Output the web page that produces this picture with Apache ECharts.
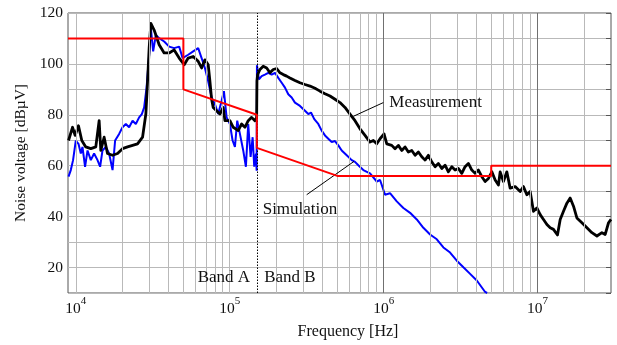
<!DOCTYPE html>
<html><head><meta charset="utf-8">
<script src="https://cdn.jsdelivr.net/npm/echarts@6/dist/echarts.min.js"></script>
<style>html,body{margin:0;padding:0;background:#fff}#c{width:617px;height:345px}</style>
</head><body><div id="c"></div>
<script>
// ---- data (frequency in Hz, level in dBµV) ----
const measFreq = [8970, 9520, 9900, 10410, 10940, 11610, 12520, 13490, 14180, 14540, 15280, 16070, 17330, 18670, 20120, 21690, 23380, 25190, 27150, 28520, 29260, 29970, 30740, 32290, 34800, 37510, 40430, 43570, 46960, 50610, 53730, 57900, 62400, 65670, 69000, 72490, 74360, 76270, 78120, 82190, 86350, 90730, 93070, 100300, 105400, 113600, 119500, 125600, 131900, 138800, 145800, 149600, 150300, 151800, 157200, 165100, 173800, 182600, 191800, 201800, 212100, 222800, 234400, 246300, 265400, 286100, 308300, 332200, 358100, 385900, 415900, 448200, 483100, 520600, 561000, 604600, 651600, 702300, 756900, 815600, 857000, 902000, 948000, 1006000, 1048000, 1129000, 1186000, 1246000, 1312000, 1378000, 1447000, 1523000, 1601000, 1682000, 1769000, 1858000, 1953000, 2054000, 2159000, 2268000, 2387000, 2507000, 2634000, 2772000, 2912000, 3060000, 3219000, 3382000, 3553000, 3740000, 3929000, 4128000, 4344000, 4564000, 4796000, 5047000, 5303000, 5570000, 5714000, 6002000, 6315000, 6635000, 7152000, 7709000, 8095000, 8520000, 8951000, 9406000, 9897000, 10400000, 10930000, 11500000, 12080000, 12690000, 13470000, 14030000, 14740000, 15510000, 16290000, 17120000, 18010000, 19410000, 20930000, 22550000, 24300000, 26190000, 27510000, 28910000, 30000000];
const measVal = [69.9, 75.1, 71.9, 75.7, 69.9, 67.4, 66.7, 67.4, 77.7, 66, 71.2, 64.8, 64.1, 64.8, 66.7, 67.4, 68, 68.6, 71.2, 80.3, 93.2, 106.2, 115.9, 113.3, 107.5, 104.3, 104.3, 105.5, 102.3, 99.7, 102.3, 102.9, 101, 98.4, 101.6, 99.7, 93.2, 86.1, 82.9, 81.6, 80.3, 82.9, 77.7, 77.7, 75.1, 73.8, 76.4, 75.1, 77.7, 79, 77.7, 79, 93.2, 95.8, 97.8, 99.1, 98.4, 96.5, 97.8, 98.2, 96.5, 95.8, 95.2, 94.5, 93.5, 92.6, 91.9, 91.3, 90.4, 89.3, 88.3, 87.4, 86.1, 84.8, 82.9, 80.3, 77.7, 74.5, 71.9, 69.3, 69.9, 68.6, 70.6, 72.5, 68.6, 68, 66.7, 68, 66, 67.4, 65.4, 66, 64.1, 65.4, 63.5, 62.2, 64.1, 61.5, 59.6, 60.9, 58.9, 60.2, 57.6, 59.6, 58.3, 58.9, 57, 59.6, 60.9, 58.3, 57, 58.3, 55.7, 53.8, 55, 57.6, 54.4, 52.4, 57.6, 53.8, 57.6, 51.2, 51.8, 49.9, 51.8, 48.6, 49.9, 42.1, 43.4, 40.8, 38.9, 36.9, 35.6, 35, 32.8, 38.9, 42.1, 45.3, 47.3, 44.1, 39.5, 37.6, 35.6, 33.7, 32.4, 33.7, 33, 37.6, 38.9];

const simFreq = [8970, 9280, 9600, 10000, 10410, 10780, 11050, 11490, 11920, 12520, 13150, 13840, 14390, 14910, 15670, 16460, 17330, 18010, 19120, 20120, 21140, 22210, 23380, 24550, 25800, 26860, 27810, 28830, 29970, 30740, 31810, 33130, 34800, 37510, 40430, 43570, 46960, 49410, 53730, 57900, 62400, 65670, 69000, 72490, 76270, 80140, 84180, 88580, 91690, 95460, 100300, 104400, 108100, 111900, 116500, 122400, 127400, 131900, 136700, 140900, 144300, 148000, 149600, 150300, 154800, 161300, 169400, 178000, 187300, 196800, 206800, 217600, 228600, 240100, 252700, 265400, 286100, 308300, 323900, 337300, 354300, 376200, 395800, 415900, 437100, 459900, 483100, 507600, 534100, 575600, 620200, 651600, 684700, 738000, 815600, 902000, 948000, 1021000, 1100000, 1217000, 1343000, 1485000, 1642000, 1812000, 2003000, 2215000, 2445000, 2702000, 2987000, 3298000, 3646000, 4030000, 4564000, 4703000];
const simVal = [55.7, 58.3, 62.2, 69.9, 68.6, 64.8, 67.4, 59.6, 66, 62.2, 64.8, 62.2, 59.6, 66, 67.4, 64.8, 58.3, 69.9, 72.5, 75.1, 76.4, 75.1, 77.7, 76.4, 79, 80.3, 82.9, 90.7, 103.6, 114, 104.9, 111.4, 110.1, 108.8, 106.8, 106.2, 106.8, 102.3, 103.6, 104.9, 106.2, 102.3, 98.4, 93.2, 86.8, 84.2, 80.3, 85.5, 89.3, 79, 76.4, 69.9, 67.4, 77.7, 72.5, 66, 59.6, 76.4, 63.5, 71.2, 59.6, 64.8, 58, 99.5, 93.9, 95.2, 95.8, 96.5, 95.8, 96.5, 94.5, 92.6, 90.7, 88.1, 86.8, 84.8, 83.5, 81.6, 80.3, 80.9, 78.3, 76.4, 73.8, 71.9, 70.6, 69.3, 69.7, 68, 66, 64.1, 62.2, 61.5, 60.2, 58.3, 57, 53.8, 54.4, 48.6, 49.2, 46, 43.4, 41.5, 38.9, 35.6, 33, 31.1, 27.9, 25.9, 22.7, 20.1, 17.5, 14.9, 10.4, 10];

const limitFreq = [8900, 50000, 50000, 150000, 150000, 500000, 5000000, 5000000, 30000000];
const limitVal = [110, 110, 90, 80, 67, 56, 56, 60, 60];

const minorGridFreqs = [2e4, 3e4, 4e4, 5e4, 6e4, 7e4, 8e4, 9e4, 2e5, 3e5, 4e5, 5e5, 6e5, 7e5, 8e5, 9e5, 2e6, 3e6, 4e6, 5e6, 6e6, 7e6, 8e6, 9e6, 2e7];
const lightMajorFreqs = [1e4, 1e5];
const darkMajorFreqs = [1e6, 1e7];
const bandEdgeFreq = 150000;

const annTexts = ['Band A', 'Band B', 'Measurement', 'Simulation'];
const annFreq = [91690, 246300, 2176000, 286100];
const annVal = [16.1, 16.1, 85.0, 42.6];

const leaderFrom = [[995000, 84.8], [316200, 48.6]];
const leaderTo = [[635300, 79.4], [642000, 61.7]];

// ---- chart ----
const FONT = 'Liberation Serif';
const zip = (a, b) => a.map((x, i) => [x, b[i]]);
const chart = echarts.init(document.getElementById('c'), null, {renderer: 'canvas'});

const gridColor = '#b9b9b9';
chart.setOption({
  animation: false,
  backgroundColor: '#ffffff',
  textStyle: {fontFamily: FONT},
  grid: {left: 68, right: 6, top: 13, bottom: 49, show: true, borderColor: '#555', borderWidth: 1, backgroundColor: 'transparent'},
  xAxis: {
    type: 'log', logBase: 10, min: 8900, max: 30000000,
    name: 'Frequency [Hz]', nameLocation: 'middle', nameGap: 31,
    nameTextStyle: {fontFamily: FONT, fontSize: 16, color: '#111', padding: [0, 0, 0, 17]},
    axisLine: {show: false}, axisTick: {show: false},
    splitLine: {show: false},
    axisLabel: {
      margin: 3, showMinLabel: true, showMaxLabel: true,
      formatter: function (v) {
        const e = Math.log10(v);
        if (Math.abs(e - Math.round(e)) < 1e-6) return '{b|10}{s|' + Math.round(e) + '}';
        return '';
      },
      rich: {
        b: {fontFamily: FONT, fontSize: 15.5, color: '#111', verticalAlign: 'bottom', lineHeight: 21},
        s: {fontFamily: FONT, fontSize: 11, color: '#111', verticalAlign: 'top', lineHeight: 11}
      }
    }
  },
  yAxis: [{
    type: 'value', min: 10, max: 120, interval: 10,
    name: 'Noise voltage [dBµV]', nameLocation: 'middle', nameGap: 31, nameRotate: 90,
    nameTextStyle: {fontFamily: FONT, fontSize: 15.5, color: '#111'},
    axisLine: {show: false}, axisTick: {show: false},
    axisLabel: {margin: 5, fontFamily: FONT, fontSize: 15.5, color: '#111',
      formatter: v => (v % 20 === 0 ? String(v) : '')},
    splitLine: {show: true, lineStyle: {color: gridColor, width: 1}}
  }, {
    type: 'value', min: 10, max: 120, interval: 10, position: 'right',
    axisLine: {show: false}, axisLabel: {show: false}, splitLine: {show: false},
    axisTick: {show: true, inside: true, length: 5, lineStyle: {color: '#555'}}
  }],
  series: [
    {
      type: 'line', data: [], z: 1, silent: true,
      markLine: {
        silent: true, symbol: ['none', 'none'], label: {show: false}, animation: false,
        data: minorGridFreqs.concat(lightMajorFreqs).map(f => ({xAxis: f, lineStyle: {color: gridColor, width: 1, type: 'solid'}}))
          .concat(darkMajorFreqs.map(f => ({xAxis: f, lineStyle: {color: '#707070', width: 1, type: 'solid'}})))
      }
    },
    {
      name: 'Simulation', type: 'line', data: zip(simFreq, simVal), z: 3,
      showSymbol: false, symbol: 'none', lineStyle: {color: '#0000ff', width: 2}
    },
    {
      name: 'Measurement', type: 'line', data: zip(measFreq, measVal), z: 4,
      showSymbol: false, symbol: 'none', lineStyle: {color: '#000000', width: 2.8, join: 'round'}
    },
    {
      name: 'Limit', type: 'line', data: zip(limitFreq, limitVal), z: 5,
      showSymbol: false, symbol: 'none', lineStyle: {color: '#ff0000', width: 2}
    },
    {
      type: 'line', data: [], z: 6, silent: true,
      markLine: {
        silent: true, symbol: ['none', 'none'], label: {show: false}, animation: false,
        data: [
          {xAxis: bandEdgeFreq, lineStyle: {color: '#000', width: 1, type: [1.5, 1.5]}},
          [{coord: leaderFrom[0]}, {coord: leaderTo[0]}],
          [{coord: leaderFrom[1]}, {coord: leaderTo[1]}]
        ],
        lineStyle: {color: '#000', width: 1, type: 'solid'}
      },
      markPoint: {
        silent: true, symbol: 'circle', symbolSize: 1, itemStyle: {color: 'rgba(0,0,0,0)'},
        label: {show: true, position: 'inside', fontFamily: FONT, fontSize: 17, color: '#111', formatter: p => p.name},
        data: annTexts.map((t, i) => ({name: t, coord: [annFreq[i], annVal[i]]}))
      }
    }
  ]
});
</script>
</body></html>
